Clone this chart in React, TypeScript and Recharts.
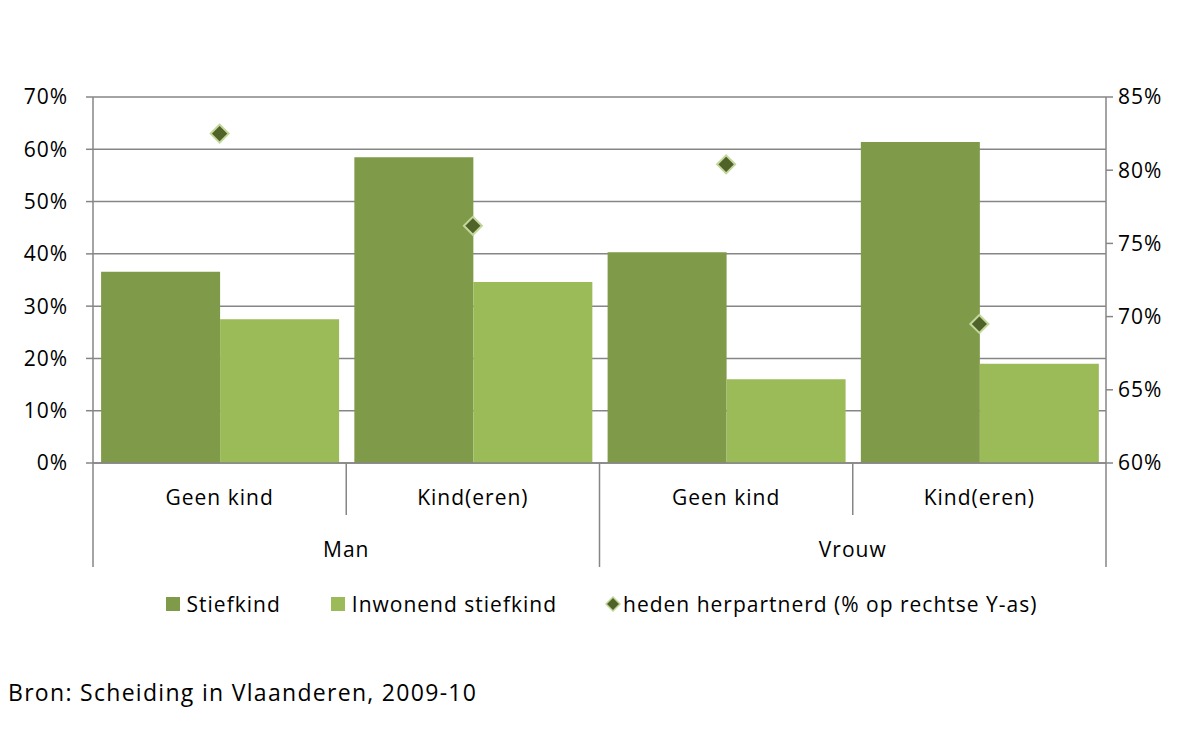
import React from 'react'
import { ComposedChart, Bar, Line, XAxis, YAxis, CartesianGrid, Legend } from 'recharts'

const genders = ['Man', 'Man', 'Vrouw', 'Vrouw']
const children = ['Geen kind', 'Kind(eren)', 'Geen kind', 'Kind(eren)']
const stiefkind = [0.366, 0.585, 0.403, 0.614]
const inwonend = [0.275, 0.346, 0.16, 0.19]
const herpartnerd = [0.825, 0.762, 0.804, 0.695]
const leftTicks = [0, 0.1, 0.2, 0.3, 0.4, 0.5, 0.6, 0.7]
const rightTicks = [0.6, 0.65, 0.7, 0.75, 0.8, 0.85]

const data = children.map((c, i) => ({
  id: `${genders[i]} ${c}`,
  child: c,
  gender: genders[i],
  stiefkind: stiefkind[i],
  inwonend: inwonend[i],
  herpartnerd: herpartnerd[i],
}))

const AXIS = '#868686'
const DARK = '#7f9a48'
const LIGHT = '#9bbb59'
const FONT = "'Open Sans', sans-serif"
const pct = (v: number) => `${Math.round(v * 100)}%`

function InnerTick(props: any) {
  const { x, y, index, width } = props
  const hb = (width || 1013) / data.length / 2
  const long = index % 2 === 0
  return (
    <g>
      <line x1={x - hb} x2={x - hb} y1={y} y2={y + (long ? 104 : 52)} stroke={AXIS} strokeWidth={1.5} />
      {index === data.length - 1 && (
        <line x1={x + hb} x2={x + hb} y1={y} y2={y + 104} stroke={AXIS} strokeWidth={1.5} />
      )}
      <text x={x} y={y + 42} textAnchor="middle" fontSize={21} letterSpacing={1} fill="#000">
        {data[index].child}
      </text>
    </g>
  )
}

function OuterTick(props: any) {
  const { x, y, payload } = props
  return (
    <text x={x} y={y + 42} textAnchor="middle" fontSize={21} letterSpacing={1} fill="#000">
      {payload.value}
    </text>
  )
}

function Diamond(props: any) {
  const { cx, cy } = props
  if (cx == null || cy == null) return null
  const r = 9
  return (
    <polygon
      points={`${cx},${cy - r} ${cx + r},${cy} ${cx},${cy + r} ${cx - r},${cy}`}
      fill="#4f6228"
      stroke="#c3d69b"
      strokeWidth={2}
    />
  )
}

function LegendBox() {
  const item = { display: 'inline-flex', alignItems: 'center', fontSize: 21, letterSpacing: 1, color: '#000' }
  return (
    <div style={{ height: 74, display: 'flex', alignItems: 'center', justifyContent: 'center', fontFamily: FONT }}>
      <span style={{ ...item, marginRight: 50 }}>
        <span style={{ width: 14, height: 14, background: DARK, marginRight: 7 }} />
        Stiefkind
      </span>
      <span style={{ ...item, marginRight: 48 }}>
        <span style={{ width: 14, height: 14, background: LIGHT, marginRight: 7 }} />
        Inwonend stiefkind
      </span>
      <span style={item}>
        <svg width={16} height={16} style={{ marginRight: 2 }}>
          <polygon points="8,1 15,8 8,15 1,8" fill="#4f6228" stroke="#c3d69b" strokeWidth={1.5} />
        </svg>
        heden herpartnerd (% op rechtse Y-as)
      </span>
    </div>
  )
}

export default function App() {
  return (
    <div style={{ position: 'absolute', left: 0, top: 0, width: 1203, height: 753, background: '#fff', fontFamily: FONT }}>
      <ComposedChart
        width={1203}
        height={641}
        data={data}
        margin={{ top: 97, right: 0, bottom: 0, left: 0 }}
        barCategoryGap="3.2%"
        barGap={0}
      >
        <CartesianGrid yAxisId="left" xAxisId="inner" vertical={false} stroke={AXIS} strokeWidth={1.5} />
        <XAxis
          xAxisId="inner"
          dataKey="id"
          height={52}
          tickSize={0}
          tickMargin={0}
          tickLine={false}
          axisLine={{ stroke: AXIS, strokeWidth: 1.5 }}
          tick={<InnerTick />}
          interval={0}
        />
        <XAxis
          xAxisId="outer"
          dataKey="gender"
          allowDuplicatedCategory={false}
          height={52}
          tickSize={0}
          tickMargin={0}
          tickLine={false}
          axisLine={false}
          tick={<OuterTick />}
          interval={0}
        />
        <YAxis
          yAxisId="left"
          width={93}
          domain={[0, 0.7]}
          ticks={leftTicks}
          tickFormatter={pct}
          tickSize={7}
          tickMargin={18}
          axisLine={{ stroke: AXIS, strokeWidth: 1.5 }}
          tickLine={{ stroke: AXIS, strokeWidth: 1.5 }}
          tick={{ fill: '#000', fontSize: 21, letterSpacing: 1 }}
          interval={0}
        />
        <YAxis
          yAxisId="right"
          orientation="right"
          width={97}
          domain={[0.6, 0.85]}
          ticks={rightTicks}
          tickFormatter={pct}
          tickSize={7}
          tickMargin={5}
          axisLine={{ stroke: AXIS, strokeWidth: 1.5 }}
          tickLine={{ stroke: AXIS, strokeWidth: 1.5 }}
          tick={{ fill: '#000', fontSize: 21, letterSpacing: 1 }}
          interval={0}
        />
        <Bar xAxisId="inner" yAxisId="left" dataKey="stiefkind" name="Stiefkind" fill={DARK} isAnimationActive={false} />
        <Bar xAxisId="inner" yAxisId="left" dataKey="inwonend" name="Inwonend stiefkind" fill={LIGHT} isAnimationActive={false} />
        <Line
          xAxisId="inner"
          yAxisId="right"
          dataKey="herpartnerd"
          name="heden herpartnerd (% op rechtse Y-as)"
          stroke="none"
          dot={<Diamond />}
          activeDot={false}
          isAnimationActive={false}
        />
        <Legend verticalAlign="bottom" content={<LegendBox />} />
      </ComposedChart>
      <div style={{ position: 'absolute', left: 8, top: 676, fontSize: 23, letterSpacing: 1.3, color: '#000' }}>
        Bron: Scheiding in Vlaanderen, 2009-10
      </div>
    </div>
  )
}
